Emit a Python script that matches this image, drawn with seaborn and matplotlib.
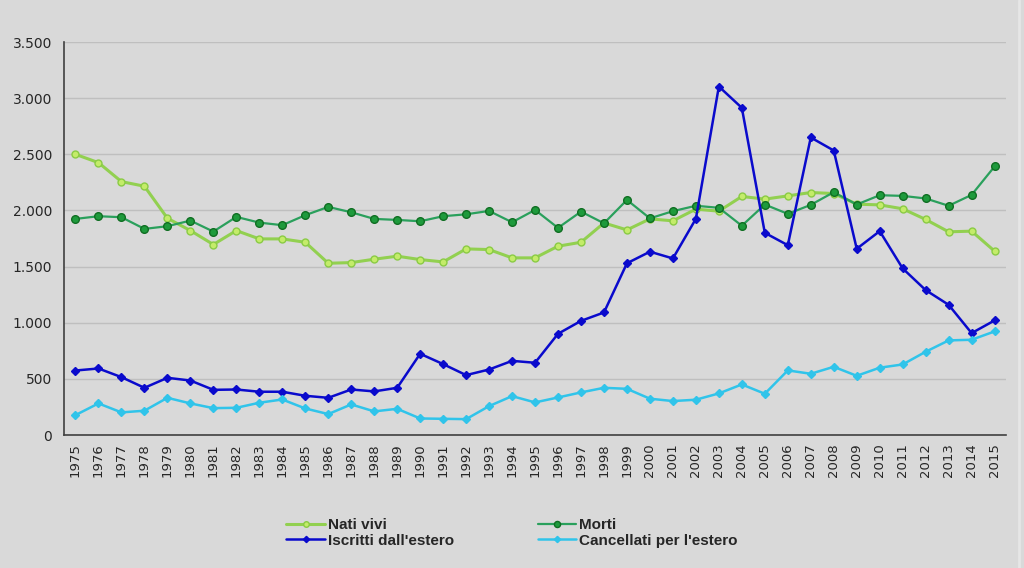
"""
plot.py
-------
Nati vivi, morti, iscritti e cancellati per l'estero, 1975-2015.
Saves the figure to out.png.
"""

import matplotlib
matplotlib.use("Agg")
import matplotlib.pyplot as plt
import matplotlib.ticker as mticker
import numpy as np
import pandas as pd
import seaborn as sns

# ── Data ───────────────────────────────────────────────────────────────────────

years = list(range(1975, 2016))

nati_vivi = [
    2500, 2426, 2257, 2216, 1931, 1821, 1697, 1821, 1747, 1747,
    1717, 1530, 1536, 1566, 1593, 1563, 1542, 1658, 1652, 1578,
    1578, 1682, 1717, 1889, 1827, 1925, 1908, 2012, 1994, 2125,
    2101, 2130, 2160, 2151, 2056, 2050, 2015, 1920, 1810, 1816,
    1638,
]
morti = [
    1925, 1949, 1940, 1836, 1860, 1910, 1812, 1943, 1892, 1869,
    1958, 2032, 1984, 1925, 1916, 1904, 1949, 1966, 1996, 1895,
    2005, 1845, 1990, 1886, 2094, 1930, 1994, 2042, 2024, 1864,
    2053, 1970, 2050, 2163, 2053, 2136, 2130, 2107, 2042, 2139,
    2392,
]
iscritti = [
    575, 593, 516, 421, 510, 486, 403, 406, 386, 386,
    350, 332, 406, 389, 421, 724, 632, 534, 584, 661,
    644, 902, 1017, 1092, 1530, 1633, 1573, 1926, 3104, 2914,
    1801, 1691, 2650, 2534, 1659, 1816, 1484, 1291, 1160, 908,
    1021,
]
cancellati = [
    178, 282, 202, 217, 332, 282, 240, 243, 288, 317,
    237, 187, 273, 211, 234, 148, 145, 142, 258, 347,
    291, 335, 380, 421, 412, 324, 303, 315, 371, 451,
    368, 576, 546, 608, 528, 600, 629, 742, 843, 849,
    923,
]

series_names = ["Nati vivi", "Morti", "Iscritti dall'estero", "Cancellati per l'estero"]

# ── Style ──────────────────────────────────────────────────────────────────────

BG = "#d9d9d9"
STYLES = {
    "Nati vivi":               dict(color="#92d050", marker="o", mfc="#c4ec6a", mec="#8acb45", ms=5, lw=2.2),
    "Morti":                   dict(color="#2aa05c", marker="o", mfc="#1e9a3c", mec="#0f6e22", ms=5.5, lw=1.6),
    "Iscritti dall'estero":    dict(color="#0a0acc", marker="D", mfc="#0a0acc", mec="#0a0acc", ms=4, lw=1.8),
    "Cancellati per l'estero": dict(color="#30c4ea", marker="D", mfc="#30c4ea", mec="#30c4ea", ms=4, lw=1.8),
}

sns.set_style("white")
plt.rcParams["font.family"] = ["DejaVu Sans"]

df = pd.DataFrame({
    "anno": years,
    "Nati vivi": nati_vivi,
    "Morti": morti,
    "Iscritti dall'estero": iscritti,
    "Cancellati per l'estero": cancellati,
})
df["pos"] = np.arange(len(df))
long_df = df.melt(id_vars=["anno", "pos"], value_vars=series_names,
                  var_name="serie", value_name="valore")

# ── Plot ───────────────────────────────────────────────────────────────────────

fig = plt.figure(figsize=(10.24, 5.68), dpi=100, facecolor=BG)
ax = fig.add_axes([0.0625, 0.234, 0.92, 0.692])
ax.set_facecolor(BG)

for name in series_names:
    st = STYLES[name]
    sns.lineplot(
        data=long_df[long_df["serie"] == name], x="pos", y="valore",
        ax=ax, color=st["color"], linewidth=st["lw"], marker=st["marker"],
        markersize=st["ms"], markerfacecolor=st["mfc"], markeredgecolor=st["mec"],
        markeredgewidth=1.0, label=name, legend=False,
    )

ax.set_xlim(-0.5, len(years) - 0.5)
ax.set_ylim(0, 3500)
ax.yaxis.set_major_locator(mticker.MultipleLocator(500))
ax.yaxis.set_major_formatter(
    mticker.FuncFormatter(lambda v, _: f"{int(v):,}".replace(",", "."))
)
ax.grid(axis="y", color="#bfbfbf", linewidth=1.0)
ax.set_axisbelow(True)

ax.set_xticks(np.arange(len(years)))
ax.set_xticklabels([str(y) for y in years], rotation=90, fontsize=9.5, color="#262626")
ax.set_xticks(np.arange(len(years) + 1) - 0.5, minor=True)
ax.tick_params(axis="x", which="major", length=0, pad=6)
ax.tick_params(axis="x", which="minor", length=4, color="#404040", direction="out")
ax.tick_params(axis="y", labelsize=10, labelcolor="#262626", length=5,
               color="#404040", direction="out")

for side in ["top", "right"]:
    ax.spines[side].set_visible(False)
for side in ["left", "bottom"]:
    ax.spines[side].set_color("#404040")
    ax.spines[side].set_linewidth(1.2)

ax.set_xlabel("")
ax.set_ylabel("")

# legend order: row1 Nati vivi / Morti, row2 Iscritti / Cancellati
handles, labels = ax.get_legend_handles_labels()
order = [0, 2, 1, 3]
fig.legend(
    [handles[i] for i in order], [labels[i] for i in order],
    loc="center", bbox_to_anchor=(0.5, 0.062), ncol=2, markerscale=0.8,
    frameon=False, handlelength=2.5, handletextpad=0.2, columnspacing=5.5,
    labelspacing=0.1, prop={"weight": "bold", "size": 11, "family": "Liberation Sans"},
)

# thin lighter border on the right edge, as in the source chart
fig.add_artist(plt.Line2D([0.9955, 0.9955], [0, 1], transform=fig.transFigure,
                          color="#e6e6e6", linewidth=2))

fig.savefig("out.png", dpi=100, facecolor=BG)
plt.close(fig)
